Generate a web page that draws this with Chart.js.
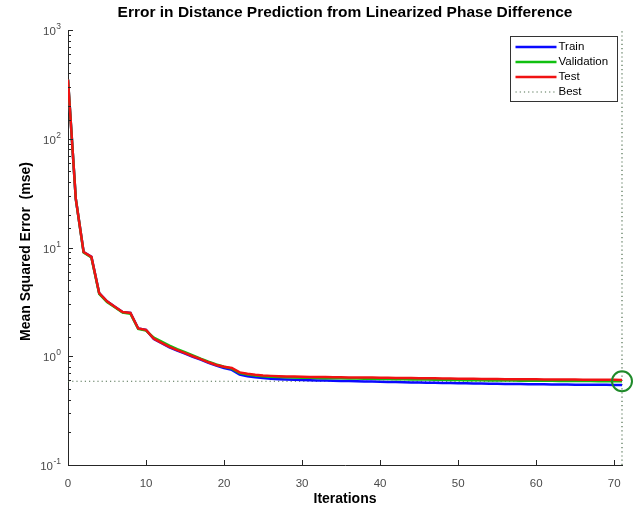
<!DOCTYPE html>
<html>
<head>
<meta charset="utf-8">
<title>Error in Distance Prediction</title>
<script src="https://cdn.jsdelivr.net/npm/chart.js@4.4.1/dist/chart.umd.min.js"></script>
<style>
  html, body { margin: 0; padding: 0; background: #fff; }
  #wrap { width: 636px; height: 509px; position: relative; }
</style>
</head>
<body>
<div id="wrap"><canvas id="perfChart"></canvas></div>
<script>
// Iterations (epochs) on the x axis
const iterations = [
  0, 1, 2, 3, 4, 5, 6, 7, 8, 9,
  10, 11, 12, 13, 14, 15, 16, 17, 18, 19,
  20, 21, 22, 23, 24, 25, 26, 27, 28, 29,
  30, 31, 32, 33, 34, 35, 36, 37, 38, 39,
  40, 41, 42, 43, 44, 45, 46, 47, 48, 49,
  50, 51, 52, 53, 54, 55, 56, 57, 58, 59,
  60, 61, 62, 63, 64, 65, 66, 67, 68, 69,
  70, 71
];

// Mean squared error per iteration
const trainMse = [
  350, 28, 9.1, 8.2, 3.8, 3.2, 2.85, 2.55, 2.5, 1.8,
  1.75, 1.44, 1.32, 1.21, 1.13, 1.06, 0.99, 0.93, 0.87, 0.82,
  0.78, 0.75, 0.68, 0.655, 0.64, 0.63, 0.622, 0.616, 0.612, 0.608,
  0.605, 0.602, 0.6, 0.597, 0.595, 0.593, 0.591, 0.589, 0.587, 0.585,
  0.583, 0.581, 0.579, 0.577, 0.575, 0.573, 0.572, 0.57, 0.568, 0.567,
  0.565, 0.564, 0.562, 0.561, 0.56, 0.558, 0.557, 0.556, 0.555, 0.554,
  0.553, 0.552, 0.551, 0.55, 0.549, 0.548, 0.548, 0.547, 0.546, 0.546,
  0.545, 0.545
];
const validationMse = [
  350, 28, 9.0, 8.1, 3.75, 3.15, 2.82, 2.52, 2.46, 1.78,
  1.72, 1.48, 1.36, 1.25, 1.16, 1.09, 1.02, 0.95, 0.89, 0.84,
  0.8, 0.77, 0.7, 0.68, 0.665, 0.655, 0.648, 0.643, 0.64, 0.637,
  0.635, 0.633, 0.631, 0.629, 0.628, 0.626, 0.624, 0.623, 0.621, 0.62,
  0.618, 0.617, 0.615, 0.614, 0.612, 0.611, 0.61, 0.608, 0.607, 0.606,
  0.604, 0.603, 0.602, 0.601, 0.6, 0.599, 0.598, 0.597, 0.596, 0.596,
  0.595, 0.594, 0.594, 0.593, 0.592, 0.592, 0.591, 0.591, 0.59, 0.59,
  0.589, 0.589
];
const testMse = [
  350, 28, 9.1, 8.2, 3.8, 3.2, 2.85, 2.55, 2.5, 1.8,
  1.75, 1.45, 1.33, 1.22, 1.14, 1.07, 1.0, 0.94, 0.88, 0.83,
  0.8, 0.78, 0.71, 0.69, 0.675, 0.665, 0.66, 0.655, 0.652, 0.65,
  0.648, 0.646, 0.645, 0.643, 0.642, 0.64, 0.639, 0.638, 0.637, 0.636,
  0.635, 0.634, 0.632, 0.631, 0.63, 0.628, 0.627, 0.626, 0.625, 0.624,
  0.622, 0.621, 0.62, 0.619, 0.618, 0.617, 0.616, 0.615, 0.615, 0.614,
  0.613, 0.612, 0.612, 0.611, 0.61, 0.61, 0.609, 0.608, 0.608, 0.607,
  0.607, 0.606
];

const bestEpoch = 71;
const bestMse = validationMse[bestEpoch];

// Axis ticks
const xTicks = [0, 10, 20, 30, 40, 50, 60, 70];
const yDecades = [-1, 0, 1, 2, 3];

const chartTitle = 'Error in Distance Prediction from Linearized Phase Difference';
const xTitle = 'Iterations';
const yTitle = 'Mean Squared Error  (mse)';

const colors = {
  train: '#0a0aff',
  validation: '#10c010',
  test: '#f01212',
  best: '#4f6f4f',
  circle: '#1f8a2a',
  axis: '#262626',
  tickText: '#4a4a4a'
};

const FONT = '"Liberation Sans", Arial, Helvetica, sans-serif';

// Draws MATLAB-like inward ticks, exponent labels, titles and the legend box
const matlabAxes = {
  id: 'matlabAxes',
  afterDraw(chart) {
    const { ctx, chartArea: a, scales: { x, y } } = chart;
    ctx.save();
    ctx.strokeStyle = colors.axis;
    ctx.lineWidth = 1;

    // y ticks (major + minor), pointing in
    y.ticks.forEach(t => {
      const lg = Math.log10(t.value);
      const major = Math.abs(lg - Math.round(lg)) < 1e-6;
      const py = Math.round(y.getPixelForValue(t.value)) + 0.5;
      ctx.beginPath();
      ctx.moveTo(a.left, py);
      ctx.lineTo(a.left + (major ? 5 : 3), py);
      ctx.stroke();
    });

    // x ticks, pointing in
    xTicks.forEach(v => {
      const px = Math.round(x.getPixelForValue(v)) + 0.5;
      ctx.beginPath();
      ctx.moveTo(px, a.bottom);
      ctx.lineTo(px, a.bottom - 5);
      ctx.stroke();
    });

    // y labels: 10 with superscript exponent
    ctx.fillStyle = colors.tickText;
    ctx.textBaseline = 'alphabetic';
    yDecades.forEach(d => {
      const py = y.getPixelForValue(Math.pow(10, d));
      const exp = String(d);
      ctx.font = '8.5px ' + FONT;
      const ew = ctx.measureText(exp).width;
      const right = a.left - 7;
      ctx.textAlign = 'right';
      ctx.fillText(exp, right, py - 1);
      ctx.font = '11.5px ' + FONT;
      ctx.fillText('10', right - ew - 0.5, py + 5);
    });

    // Titles
    ctx.fillStyle = '#000';
    ctx.textAlign = 'center';
    ctx.textBaseline = 'middle';
    ctx.font = 'bold 15.5px ' + FONT;
    ctx.fillText(chartTitle, (a.left + a.right) / 2, 13);
    ctx.font = 'bold 14px ' + FONT;
    ctx.fillText(xTitle, (a.left + a.right) / 2, 499);
    ctx.save();
    ctx.translate(26, (a.top + a.bottom) / 2 + 4);
    ctx.rotate(-Math.PI / 2);
    ctx.fillText(yTitle, 0, 0);
    ctx.restore();

    // Legend box
    const items = chart.data.datasets.filter(ds => ds.showInLegend);
    const boxW = 107, boxH = 65;
    const bx = a.right - 111.5, by = a.top + 6.5;
    ctx.fillStyle = '#fff';
    ctx.fillRect(bx, by, boxW, boxH);
    ctx.strokeStyle = '#333';
    ctx.lineWidth = 1;
    ctx.strokeRect(bx, by, boxW, boxH);
    ctx.font = '11.5px ' + FONT;
    ctx.textAlign = 'left';
    ctx.textBaseline = 'middle';
    items.forEach((ds, i) => {
      const ly = by + 10.5 + i * 15;
      ctx.strokeStyle = ds.borderColor;
      ctx.lineWidth = ds.borderDash ? 1.2 : 2.5;
      ctx.setLineDash(ds.borderDash || []);
      ctx.beginPath();
      ctx.moveTo(bx + 5, ly);
      ctx.lineTo(bx + 46, ly);
      ctx.stroke();
      ctx.setLineDash([]);
      ctx.fillStyle = '#000';
      ctx.fillText(ds.label, bx + 48, ly);
    });

    ctx.restore();
  }
};

function series(label, values, color, order) {
  return {
    label: label,
    data: values,
    borderColor: color,
    backgroundColor: color,
    borderWidth: 2.5,
    pointRadius: 0,
    tension: 0,
    order: order,
    showInLegend: true
  };
}

const ctx = document.getElementById('perfChart').getContext('2d');
const perfChart = new Chart(ctx, {
  type: 'line',
  data: {
    labels: iterations,
    datasets: [
      series('Train', trainMse, colors.train, 3),
      series('Validation', validationMse, colors.validation, 2),
      series('Test', testMse, colors.test, 1),
      {
        label: 'Best',
        data: [{ x: bestEpoch, y: 0.1 }, { x: bestEpoch, y: 1000 }],
        borderColor: colors.best,
        borderWidth: 1.2,
        borderDash: [1.2, 3],
        pointRadius: 0,
        clip: false,
        order: 4,
        showInLegend: true
      },
      {
        label: 'BestLevel',
        data: [{ x: 0, y: bestMse }, { x: bestEpoch, y: bestMse }],
        borderColor: colors.best,
        borderWidth: 1.2,
        borderDash: [1.2, 3],
        pointRadius: 0,
        clip: false,
        order: 5
      },
      {
        label: 'BestPoint',
        data: [{ x: bestEpoch, y: bestMse }],
        showLine: false,
        pointStyle: 'circle',
        pointRadius: 10,
        pointBorderWidth: 2,
        pointBorderColor: colors.circle,
        pointBackgroundColor: 'rgba(0,0,0,0)',
        borderColor: colors.circle,
        clip: false,
        order: 0
      }
    ]
  },
  options: {
    responsive: true,
    maintainAspectRatio: false,
    animation: false,
    layout: {
      padding: { left: 0, top: 30, right: 14, bottom: 0 }
    },
    plugins: {
      legend: { display: false },
      title: { display: false },
      tooltip: { enabled: false }
    },
    scales: {
      x: {
        type: 'linear',
        min: 0,
        max: 71,
        grid: { display: false, drawTicks: false },
        border: { display: true, color: colors.axis, width: 1 },
        ticks: {
          stepSize: 10,
          includeBounds: false,
          padding: 12,
          color: colors.tickText,
          font: { family: FONT, size: 11.5 }
        },
        afterFit: s => { s.height = 44; }
      },
      y: {
        type: 'logarithmic',
        min: 0.1,
        max: 1000,
        grid: { display: false, drawTicks: false },
        border: { display: true, color: colors.axis, width: 1 },
        ticks: { display: false },
        afterFit: s => { s.width = 68; }
      }
    }
  },
  plugins: [matlabAxes]
});
</script>
</body>
</html>
